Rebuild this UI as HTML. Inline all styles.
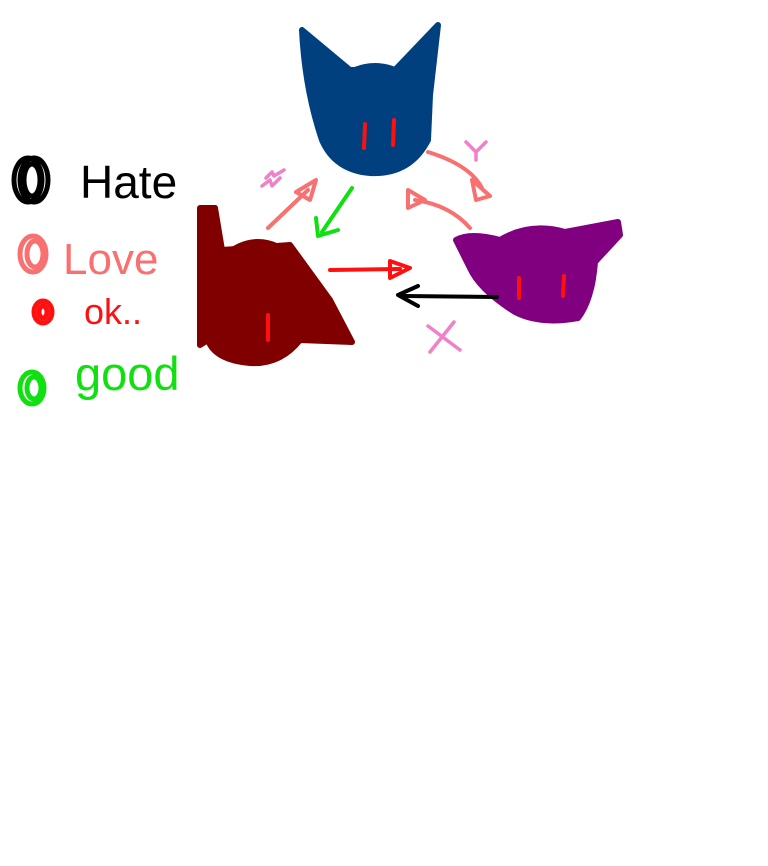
<!DOCTYPE html>
<html><head><meta charset="utf-8"><style>
html,body{margin:0;padding:0;background:#fff;}
svg{display:block;}
text{font-family:"Liberation Sans",sans-serif;}
</style></head><body>
<svg width="768" height="866" viewBox="0 0 768 866" xmlns="http://www.w3.org/2000/svg">
<g stroke-linecap="round" stroke-linejoin="round" fill="none">
<g fill="#00407f" stroke="#00407f" stroke-width="6">
<path d="M302,30 L350,70 L395,70 L438,25 L430,95 L428,140 Q410,175 370,173 Q335,170 322,140 Q305,90 302,30 Z"/>
<ellipse cx="375" cy="118" rx="52" ry="52"/>
</g>
<path d="M365,124 L364,148 M394,120 L393,145" stroke="#ff1010" stroke-width="4"/>
<g fill="#800000" stroke="#800000" stroke-width="6">
<path d="M200,208 L215,208 L222,250 L290,245 L330,300 L352,342 L300,340 Q280,365 250,363 Q215,360 208,340 L200,345 Z"/>
<ellipse cx="258" cy="300" rx="50" ry="58"/>
</g>
<path d="M268,315 L268,340" stroke="#ff1010" stroke-width="4"/>
<g fill="#800080" stroke="#800080" stroke-width="6">
<path d="M456,240 Q470,232 500,240 Q530,222 565,232 L618,222 L620,235 L595,262 Q592,300 578,318 Q540,325 515,312 Q480,290 470,268 Z"/>
<ellipse cx="545" cy="275" rx="48" ry="44"/>
</g>
<path d="M519,278 L519,298 M564,276 L563,296" stroke="#ff1010" stroke-width="4"/>
<g stroke="#f87070" stroke-width="4">
<path d="M268,228 L308,190"/>
<path d="M296,192 L316,180 L310,200 Z"/>
<path d="M428,152 Q470,165 482,188"/>
<path d="M472,180 L490,196 L476,200 Z"/>
<path d="M470,228 Q450,205 415,200"/>
<path d="M408,190 L408,208 L425,200 Z"/>
</g>
<g stroke="#10e010" stroke-width="4">
<path d="M352,188 L322,232"/>
<path d="M316,218 L318,236 L338,230"/>
</g>
<g stroke="#ff1010" stroke-width="4">
<path d="M330,270 L400,269"/>
<path d="M390,261 L410,268 L390,278 Z"/>
</g>
<g stroke="#000" stroke-width="4">
<path d="M497,297 L404,296"/>
<path d="M418,286 L398,295 L418,306"/>
</g>
<g stroke="#f080c8" stroke-width="3.5">
<path d="M262,186 L270,180 L272,186 L280,178 M266,178 L272,172 L274,176 L284,170"/>
<path d="M466,142 L476,152 L486,142 M476,152 L476,160"/>
<path d="M428,326 L460,350 M454,322 L430,352"/>
</g>
<g stroke="#000" stroke-width="5"><ellipse cx="28" cy="180" rx="14" ry="22"/><ellipse cx="34" cy="180" rx="14" ry="22"/><ellipse cx="32" cy="180" rx="8" ry="16"/></g>
<g stroke="#f87070" stroke-width="5"><ellipse cx="33" cy="254" rx="13" ry="18"/><ellipse cx="35" cy="254" rx="8" ry="13"/></g>
<g stroke="#ff1010" stroke-width="5"><ellipse cx="43" cy="312" rx="9" ry="11"/><ellipse cx="43" cy="312" rx="4" ry="6"/></g>
<g stroke="#10e010" stroke-width="5"><ellipse cx="32" cy="388" rx="12" ry="16"/><ellipse cx="34" cy="388" rx="7" ry="11"/></g>
</g>
<text x="80" y="198" font-size="46" fill="#000">Hate</text>
<text x="63" y="274" font-size="44" fill="#f87070">Love</text>
<text x="84" y="324" font-size="36" fill="#ff1010">ok..</text>
<text x="75" y="390" font-size="47" fill="#10e010">good</text>
</svg>
</body></html>
